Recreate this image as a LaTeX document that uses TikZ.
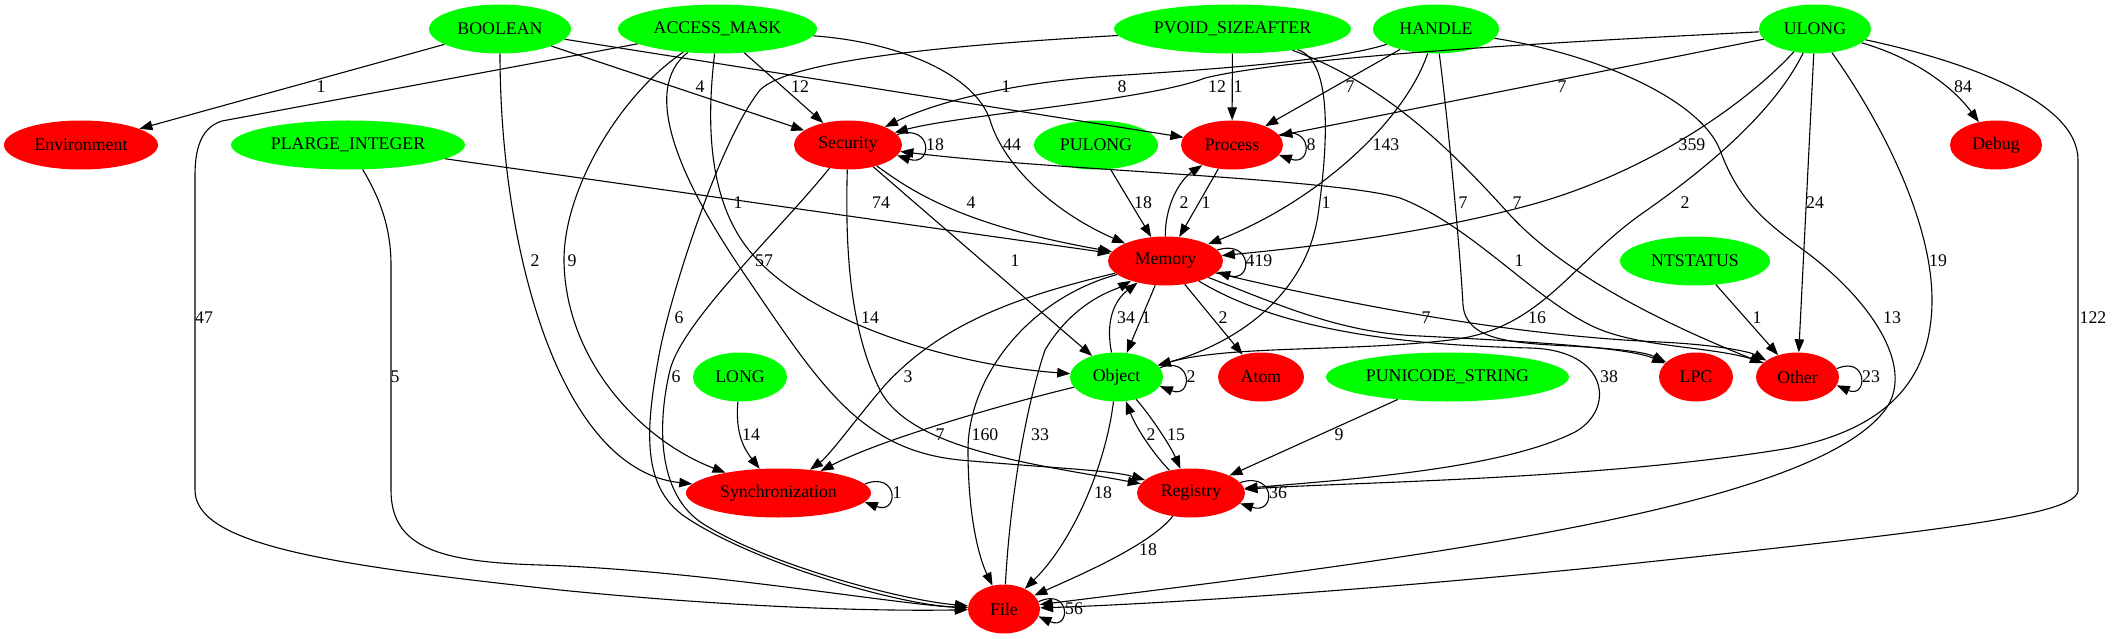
\documentclass[tikz,border=0pt]{standalone}
\usepackage{fontspec}
\setmainfont{Liberation Serif}
\usetikzlibrary{shapes.geometric,arrows.meta}
\definecolor{gvgreen}{RGB}{0,255,0}
\definecolor{gvred}{RGB}{255,0,0}
\tikzset{
 nd/.style={ellipse, inner sep=0pt, minimum height=49pt, font=\fontsize{17.8}{20}\selectfont},
 gn/.style={nd, fill=gvgreen},
 rn/.style={nd, fill=gvred},
 edg/.style={draw=black, line width=1.1pt, -{Triangle[length=13pt,width=9.5pt]}},
 lbl/.style={inner sep=0pt, font=\fontsize{17.8}{20}\selectfont}
}
\begin{document}
\begin{tikzpicture}[x=1pt,y=-1pt]
\useasboundingbox (0,0) rectangle (2112,639);
% nodes
\node[gn,minimum width=142pt] (BOOLEAN) at (500,29) {BOOLEAN};
\node[gn,minimum width=199pt] (AM) at (717.5,29) {ACCESS\_MASK};
\node[gn,minimum width=237pt] (PVOID) at (1232.5,29) {PVOID\_SIZEAFTER};
\node[gn,minimum width=126pt] (HANDLE) at (1436,29) {HANDLE};
\node[gn,minimum width=112pt] (ULONG) at (1815,29) {ULONG};
\node[rn,minimum width=154pt] (Env) at (81,145) {Environment};
\node[gn,minimum width=234pt] (PLARGE) at (348,145) {PLARGE\_INTEGER};
\node[rn,minimum width=108pt] (Sec) at (848,145) {Security};
\node[gn,minimum width=124pt] (PULONG) at (1096,145) {PULONG};
\node[rn,minimum width=102pt] (Proc) at (1232,145) {Process};
\node[rn,minimum width=92pt] (Debug) at (1996,145) {Debug};
\node[rn,minimum width=115pt] (Mem) at (1165.5,261) {Memory};
\node[gn,minimum width=150pt] (NTS) at (1695,261) {NTSTATUS};
\node[gn,minimum width=94pt] (LONG) at (740,377) {LONG};
\node[gn,minimum width=93pt] (Obj) at (1116.5,377) {Object};
\node[rn,minimum width=86pt] (Atom) at (1261,377) {Atom};
\node[gn,minimum width=243pt] (PUNI) at (1447.5,377) {PUNICODE\_STRING};
\node[rn,minimum width=74pt] (LPC) at (1696,377) {LPC};
\node[rn,minimum width=83pt] (Other) at (1797.5,377) {Other};
\node[rn,minimum width=185pt] (Sync) at (778.5,493) {Synchronization};
\node[rn,minimum width=108pt] (Reg) at (1191,493) {Registry};
\node[rn,minimum width=72pt] (File) at (1004,609) {File};
% straight edges
\draw[edg] (BOOLEAN) -- (Env);
\draw[edg] (BOOLEAN) -- (Sec);
\draw[edg] (BOOLEAN) -- (Proc);
\draw[edg] (AM) -- (Sec);
\draw[edg] (PVOID) -- (Proc);
\draw[edg] (HANDLE) -- (Proc);
\draw[edg] (ULONG) -- (Proc);
\draw[edg] (ULONG) -- (Other);
\draw[edg] (NTS) -- (Other);
\draw[edg] (PULONG) -- (Mem);
\draw[edg] (Proc) -- (Mem);
\draw[edg] (PLARGE) -- (Mem);
\draw[edg] (Sec) -- (Obj);
\draw[edg] (Mem) -- (Obj);
\draw[edg] (Mem) -- (Atom);
\draw[edg] (PUNI) -- (Reg);
% curved edges
\draw[edg] (BOOLEAN) .. controls (500,250) and (560,470) .. (Sync);
\draw[edg] (AM) -- (222,121) .. controls (203,127) and (195,145) .. (195,175) -- (195,490) .. controls (195,545) and (330,565) .. (560,590) .. controls (760,610) and (900,611) .. (File);
\draw[edg] (AM) .. controls (900,42) and (975,75) .. (990,120) .. controls (1005,170) and (1060,215) .. (Mem);
\draw[edg] (AM) .. controls (620,95) and (563,190) .. (564,262) .. controls (566,360) and (640,440) .. (Sync);
\draw[edg] (AM) .. controls (708,110) and (705,190) .. (745,245) .. controls (800,320) and (950,365) .. (Obj);
\draw[edg] (AM) .. controls (640,90) and (680,180) .. (745,275) .. controls (820,385) and (860,450) .. (960,460) .. controls (1050,468) and (1110,470) .. (Reg);
\draw[edg] (Sec) .. controls (845,250) and (850,330) .. (880,390) .. controls (910,450) and (1040,465) .. (Reg);
\draw[edg] (PVOID) .. controls (950,45) and (790,60) .. (760,90) .. controls (720,140) and (672,290) .. (660,350) .. controls (645,430) and (640,490) .. (690,520) .. controls (760,565) and (900,605) .. (File);
\draw[edg] (Sec) .. controls (780,230) and (683,320) .. (670,370) .. controls (658,420) and (655,495) .. (705,525) .. controls (770,565) and (900,600) .. (File);
\draw[edg] (PLARGE) .. controls (378,195) and (391,225) .. (391,265) -- (391,490) .. controls (391,548) and (440,562) .. (540,565) .. controls (700,570) and (900,605) .. (File);
\draw[edg] (PVOID) .. controls (1330,60) and (1330,130) .. (1318,215) .. controls (1305,300) and (1230,345) .. (Obj);
\draw[edg] (PVOID) .. controls (1390,85) and (1460,160) .. (1510,215) .. controls (1570,280) and (1680,330) .. (Other);
\draw[edg] (HANDLE) .. controls (1330,62) and (1200,70) .. (1110,76) .. controls (1020,82) and (940,100) .. (Sec);
\draw[edg] (HANDLE) .. controls (1405,120) and (1320,200) .. (Mem);
\draw[edg] (HANDLE) .. controls (1448,120) and (1460,250) .. (1463,305) .. controls (1466,340) and (1510,343) .. (1570,346) .. controls (1620,349) and (1645,352) .. (LPC);
\draw[edg] (HANDLE) .. controls (1600,55) and (1700,100) .. (1720,150) .. controls (1740,205) and (1770,225) .. (1810,255) .. controls (1875,305) and (1915,370) .. (1885,410) .. controls (1810,510) and (1400,560) .. (File);
\draw[edg] (ULONG) .. controls (1600,40) and (1300,55) .. (1205,78) .. controls (1150,100) and (960,115) .. (Sec);
\draw[edg] (ULONG) .. controls (1740,110) and (1640,175) .. (1530,205) .. controls (1420,235) and (1300,248) .. (Mem);
\draw[edg] (ULONG) .. controls (1770,120) and (1690,180) .. (1640,215) .. controls (1570,265) and (1540,330) .. (1450,340) .. controls (1350,352) and (1230,345) .. (Obj);
\draw[edg] (ULONG) .. controls (1920,60) and (1955,90) .. (Debug);
\draw[edg] (ULONG) .. controls (1880,120) and (1932,220) .. (1932,300) .. controls (1932,385) and (1880,430) .. (1790,448) .. controls (1600,480) and (1350,482) .. (Reg);
\draw[edg] (ULONG) .. controls (1960,60) and (2078,100) .. (2078,160) -- (2078,490) .. controls (2078,515) and (1950,530) .. (1600,567) .. controls (1300,597) and (1100,606) .. (File);
\draw[edg] (Other) .. controls (1720,345) and (1640,350) .. (1590,325) .. controls (1530,295) and (1470,225) .. (1400,198) .. controls (1330,178) and (1050,170) .. (Sec);
\draw[edg] (Mem) .. controls (1165,205) and (1180,180) .. (Proc);
\draw[edg] (Sec) .. controls (910,190) and (960,225) .. (Mem);
\draw[edg] (Obj) .. controls (1105,320) and (1115,300) .. (Mem);
\draw[edg] (Mem) .. controls (1025,295) and (945,320) .. (885,385) .. controls (855,420) and (830,455) .. (Sync);
\draw[edg] (Mem) .. controls (1025,300) and (968,380) .. (968,450) .. controls (968,520) and (980,560) .. (File);
\draw[edg] (File) .. controls (1010,500) and (1025,410) .. (1045,350) .. controls (1075,300) and (1115,290) .. (Mem);
\draw[edg] (Mem) .. controls (1280,305) and (1340,333) .. (1420,336) .. controls (1540,342) and (1630,348) .. (LPC);
\draw[edg] (Mem) .. controls (1330,300) and (1500,335) .. (1660,342) .. controls (1720,345) and (1750,352) .. (Other);
\draw[edg] (Mem) .. controls (1280,330) and (1400,345) .. (1530,348) .. controls (1610,350) and (1615,410) .. (1575,432) .. controls (1500,470) and (1340,480) .. (Reg);
\draw[edg] (Obj) .. controls (1000,405) and (880,440) .. (Sync);
\draw[edg] (Obj) .. controls (1105,470) and (1070,545) .. (File);
\draw[edg] (Obj) .. controls (1150,415) and (1170,445) .. (Reg);
\draw[edg] (Reg) .. controls (1150,450) and (1135,425) .. (Obj);
\draw[edg] (LONG) .. controls (735,435) and (745,450) .. (Sync);
\draw[edg] (Reg) .. controls (1150,545) and (1080,575) .. (File);
% self loops
\draw[edg] (Sec.12) .. controls (933,123) and (933,167) .. (Sec.-12);
\draw[edg] (Proc.12) .. controls (1313,123) and (1313,167) .. (Proc.-12);
\draw[edg] (Mem.12) .. controls (1253,239) and (1253,283) .. (Mem.-12);
\draw[edg] (Obj.12) .. controls (1193,355) and (1193,399) .. (Obj.-12);
\draw[edg] (Other.12) .. controls (1868,355) and (1868,399) .. (Other.-12);
\draw[edg] (Sync.6) .. controls (899,471) and (899,515) .. (Sync.-6);
\draw[edg] (Reg.12) .. controls (1276,471) and (1276,515) .. (Reg.-12);
\draw[edg] (File.12) .. controls (1071,587) and (1071,631) .. (File.-12);
% labels
\node[lbl] (l01) at (321,87) {1};
\node[lbl] (l02) at (700,87) {4};
\node[lbl] (l03) at (800,87) {12};
\node[lbl] (l04) at (1006,87) {1};
\node[lbl] (l05) at (1122,87) {8};
\node[lbl] (l06) at (1217,87) {12};
\node[lbl] (l07) at (1238,87) {1};
\node[lbl] (l08) at (1350,87) {7};
\node[lbl] (l09) at (1562,87) {7};
\node[lbl] (l10) at (1963,87) {84};
\node[lbl] (l11) at (935,145) {18};
\node[lbl] (l12) at (1012,145) {44};
\node[lbl] (l13) at (1311,145) {8};
\node[lbl] (l14) at (1386,145) {143};
\node[lbl] (l15) at (1692,145) {359};
\node[lbl] (l16) at (738,203) {1};
\node[lbl] (l17) at (881,203) {74};
\node[lbl] (l18) at (971,203) {4};
\node[lbl] (l19) at (1143,203) {18};
\node[lbl] (l20) at (1184,203) {2};
\node[lbl] (l21) at (1206,203) {1};
\node[lbl] (l22) at (1326,203) {1};
\node[lbl] (l23) at (1463,203) {7};
\node[lbl] (l24) at (1517,203) {7};
\node[lbl] (l25) at (1685,203) {2};
\node[lbl] (l26) at (1815,203) {24};
\node[lbl] (l27) at (535,261) {2};
\node[lbl] (l28) at (572,261) {9};
\node[lbl] (l29) at (764,261) {57};
\node[lbl] (l30) at (1015,261) {1};
\node[lbl] (l31) at (1259,261) {419};
\node[lbl] (l32) at (1519,261) {1};
\node[lbl] (l33) at (1938,261) {19};
\node[lbl] (l34) at (204,318) {47};
\node[lbl] (l35) at (679,318) {6};
\node[lbl] (l36) at (870,318) {14};
\node[lbl] (l37) at (1126,318) {34};
\node[lbl] (l38) at (1146,318) {1};
\node[lbl] (l39) at (1223,318) {2};
\node[lbl] (l40) at (1426,318) {7};
\node[lbl] (l41) at (1537,318) {16};
\node[lbl] (l42) at (1757,318) {1};
\node[lbl] (l43) at (1892,318) {13};
\node[lbl] (l44) at (2093,318) {122};
\node[lbl] (l45) at (395,377) {5};
\node[lbl] (l46) at (676,377) {6};
\node[lbl] (l47) at (908,377) {3};
\node[lbl] (l48) at (1191,377) {2};
\node[lbl] (l49) at (1609,377) {38};
\node[lbl] (l50) at (1871,377) {23};
\node[lbl] (l51) at (751,435) {14};
\node[lbl] (l52) at (940,435) {7};
\node[lbl] (l53) at (985,435) {160};
\node[lbl] (l54) at (1040,435) {33};
\node[lbl] (l55) at (1151,435) {2};
\node[lbl] (l56) at (1176,435) {15};
\node[lbl] (l57) at (1339,435) {9};
\node[lbl] (l58) at (897,493) {1};
\node[lbl] (l59) at (1103,493) {18};
\node[lbl] (l60) at (1278,493) {36};
\node[lbl] (l61) at (1148,550) {18};
\node[lbl] (l62) at (1074,609) {56};
\end{tikzpicture}
\end{document}
